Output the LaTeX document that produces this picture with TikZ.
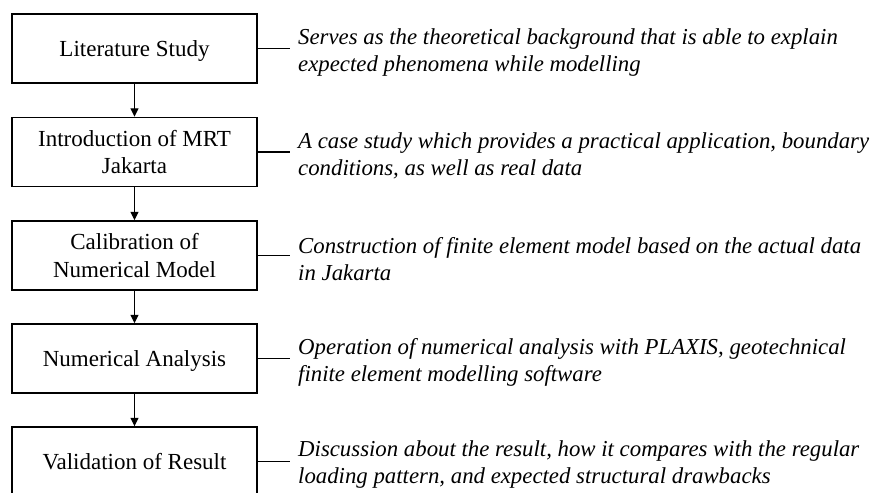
\documentclass[tikz,border=0pt]{standalone}
\usepackage{fontspec}
\setmainfont{Liberation Serif}
\usetikzlibrary{arrows.meta}
\begin{document}
\begin{tikzpicture}[x=1pt,y=-1pt,
  stepbox/.style={draw=black, line width=1.4pt, minimum width=245pt, minimum height=69pt,
    inner sep=0pt, align=center, font=\fontsize{23}{27.5}\selectfont},
  oneline/.style={text height=18pt, text depth=2pt},
  twoline/.style={text height=45pt, text depth=2pt},
  desc/.style={anchor=west, align=left, inner sep=0pt, font=\fontsize{22.8}{27}\selectfont\itshape},
  flow/.style={line width=1.2pt, -{Triangle[length=8.5pt,width=8pt]}},
  tie/.style={line width=1.2pt}]
\useasboundingbox (0,0) rectangle (877,492);
\clip (0,0) rectangle (877,492);
\node[stepbox,oneline] (b1) at (134.5,48.5) {Literature Study};
\node[stepbox,twoline] (b2) at (134.5,152) {Introduction of MRT\\Jakarta};
\node[stepbox,twoline] (b3) at (134.5,255.5) {Calibration of\\Numerical Model};
\node[stepbox,oneline] (b4) at (134.5,358.5) {Numerical Analysis};
\node[stepbox,oneline] (b5) at (134.5,461.5) {Validation of Result};
\draw[flow] (b1) -- (b2);
\draw[flow] (b2) -- (b3);
\draw[flow] (b3) -- (b4);
\draw[flow] (b4) -- (b5);
\node[desc] (d1) at (298,53) {Serves as the theoretical background that is able to explain\\expected phenomena while modelling};
\node[desc] (d2) at (298,156) {A case study which provides a practical application, boundary\\conditions, as well as real data};
\node[desc] (d3) at (298,259) {Construction of finite element model based on the actual data\\in Jakarta};
\node[desc] (d4) at (298,362) {Operation of numerical analysis with PLAXIS, geotechnical\\finite element modelling software};
\node[desc] (d5) at (298,465) {Discussion about the result, how it compares with the regular\\loading pattern, and expected structural drawbacks};
\foreach \i in {1,...,5}{
  \coordinate (e\i) at ([xshift=32pt]b\i.east);
  \draw[tie] (b\i.east) -- (e\i);
}
\end{tikzpicture}
\end{document}
